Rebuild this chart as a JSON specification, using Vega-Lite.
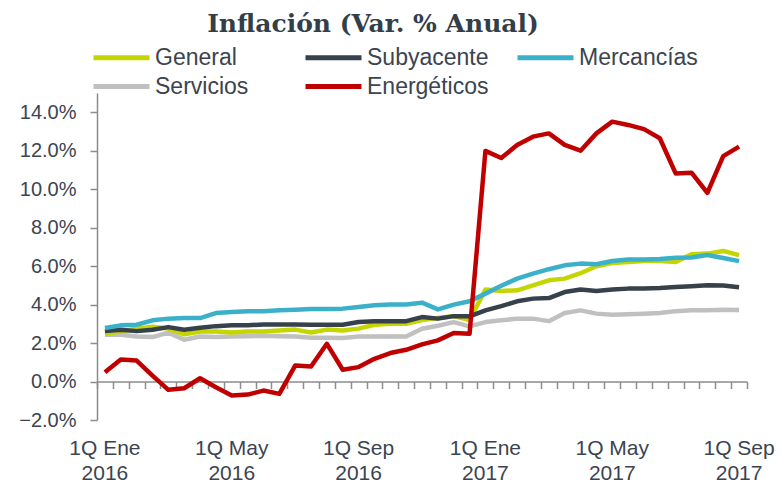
{
  "$schema": "https://vega.github.io/schema/vega-lite/v6.json",
  "width": 650,
  "height": 327,
  "autosize": {"type": "none"},
  "padding": {"left": 97, "top": 93, "right": 33, "bottom": 65},
  "background": "white",
  "config": {"view": {"stroke": null}},
  "title": {
    "text": "Inflación (Var. % Anual)",
    "font": "DejaVu Serif",
    "fontSize": 25,
    "fontWeight": "bold",
    "color": "#323e48",
    "anchor": "middle",
    "frame": "group",
    "dx": -49,
    "offset": 4
  },
  "data": {
    "values": [
      {"periodo": "1Q Ene 2016", "General": 2.5, "Subyacente": 2.62, "Mercancías": 2.78, "Servicios": 2.43, "Energéticos": 0.48},
      {"periodo": "2Q Ene 2016", "General": 2.6, "Subyacente": 2.69, "Mercancías": 2.92, "Servicios": 2.43, "Energéticos": 1.15},
      {"periodo": "1Q Feb 2016", "General": 2.75, "Subyacente": 2.62, "Mercancías": 2.95, "Servicios": 2.34, "Energéticos": 1.09},
      {"periodo": "2Q Feb 2016", "General": 2.85, "Subyacente": 2.69, "Mercancías": 3.18, "Servicios": 2.31, "Energéticos": 0.31},
      {"periodo": "1Q Mar 2016", "General": 2.75, "Subyacente": 2.83, "Mercancías": 3.27, "Servicios": 2.54, "Energéticos": -0.43},
      {"periodo": "2Q Mar 2016", "General": 2.45, "Subyacente": 2.69, "Mercancías": 3.3, "Servicios": 2.17, "Energéticos": -0.35},
      {"periodo": "1Q Abr 2016", "General": 2.6, "Subyacente": 2.8, "Mercancías": 3.3, "Servicios": 2.34, "Energéticos": 0.17},
      {"periodo": "2Q Abr 2016", "General": 2.6, "Subyacente": 2.88, "Mercancías": 3.56, "Servicios": 2.31, "Energéticos": -0.3},
      {"periodo": "1Q May 2016", "General": 2.55, "Subyacente": 2.92, "Mercancías": 3.61, "Servicios": 2.34, "Energéticos": -0.73},
      {"periodo": "2Q May 2016", "General": 2.6, "Subyacente": 2.92, "Mercancías": 3.65, "Servicios": 2.36, "Energéticos": -0.68},
      {"periodo": "1Q Jun 2016", "General": 2.6, "Subyacente": 2.97, "Mercancías": 3.66, "Servicios": 2.38, "Energéticos": -0.47},
      {"periodo": "2Q Jun 2016", "General": 2.65, "Subyacente": 2.97, "Mercancías": 3.7, "Servicios": 2.36, "Energéticos": -0.64},
      {"periodo": "1Q Jul 2016", "General": 2.7, "Subyacente": 2.97, "Mercancías": 3.73, "Servicios": 2.34, "Energéticos": 0.83},
      {"periodo": "2Q Jul 2016", "General": 2.55, "Subyacente": 2.95, "Mercancías": 3.77, "Servicios": 2.27, "Energéticos": 0.78},
      {"periodo": "1Q Ago 2016", "General": 2.7, "Subyacente": 2.95, "Mercancías": 3.77, "Servicios": 2.27, "Energéticos": 1.96},
      {"periodo": "2Q Ago 2016", "General": 2.65, "Subyacente": 2.95, "Mercancías": 3.79, "Servicios": 2.26, "Energéticos": 0.61},
      {"periodo": "1Q Sep 2016", "General": 2.75, "Subyacente": 3.09, "Mercancías": 3.87, "Servicios": 2.34, "Energéticos": 0.75},
      {"periodo": "2Q Sep 2016", "General": 2.95, "Subyacente": 3.14, "Mercancías": 3.96, "Servicios": 2.34, "Energéticos": 1.18},
      {"periodo": "1Q Oct 2016", "General": 3.0, "Subyacente": 3.14, "Mercancías": 4.0, "Servicios": 2.34, "Energéticos": 1.48},
      {"periodo": "2Q Oct 2016", "General": 3.0, "Subyacente": 3.14, "Mercancías": 4.01, "Servicios": 2.34, "Energéticos": 1.65},
      {"periodo": "1Q Nov 2016", "General": 3.2, "Subyacente": 3.35, "Mercancías": 4.1, "Servicios": 2.74, "Energéticos": 1.93},
      {"periodo": "2Q Nov 2016", "General": 3.3, "Subyacente": 3.27, "Mercancías": 3.75, "Servicios": 2.9, "Energéticos": 2.14},
      {"periodo": "1Q Dic 2016", "General": 3.4, "Subyacente": 3.4, "Mercancías": 4.0, "Servicios": 3.09, "Energéticos": 2.52},
      {"periodo": "2Q Dic 2016", "General": 3.2, "Subyacente": 3.39, "Mercancías": 4.17, "Servicios": 2.87, "Energéticos": 2.48},
      {"periodo": "1Q Ene 2017", "General": 4.78, "Subyacente": 3.7, "Mercancías": 4.57, "Servicios": 3.09, "Energéticos": 11.99},
      {"periodo": "2Q Ene 2017", "General": 4.71, "Subyacente": 3.92, "Mercancías": 4.98, "Servicios": 3.18, "Energéticos": 11.62},
      {"periodo": "1Q Feb 2017", "General": 4.74, "Subyacente": 4.17, "Mercancías": 5.35, "Servicios": 3.27, "Energéticos": 12.3},
      {"periodo": "2Q Feb 2017", "General": 5.0, "Subyacente": 4.31, "Mercancías": 5.61, "Servicios": 3.27, "Energéticos": 12.73},
      {"periodo": "1Q Mar 2017", "General": 5.26, "Subyacente": 4.34, "Mercancías": 5.84, "Servicios": 3.14, "Energéticos": 12.9},
      {"periodo": "2Q Mar 2017", "General": 5.35, "Subyacente": 4.65, "Mercancías": 6.04, "Servicios": 3.56, "Energéticos": 12.3},
      {"periodo": "1Q Abr 2017", "General": 5.63, "Subyacente": 4.78, "Mercancías": 6.13, "Servicios": 3.7, "Energéticos": 12.0},
      {"periodo": "2Q Abr 2017", "General": 5.99, "Subyacente": 4.71, "Mercancías": 6.1, "Servicios": 3.53, "Energéticos": 12.9},
      {"periodo": "1Q May 2017", "General": 6.16, "Subyacente": 4.78, "Mercancías": 6.27, "Servicios": 3.47, "Energéticos": 13.51},
      {"periodo": "2Q May 2017", "General": 6.22, "Subyacente": 4.83, "Mercancías": 6.34, "Servicios": 3.5, "Energéticos": 13.34},
      {"periodo": "1Q Jun 2017", "General": 6.27, "Subyacente": 4.83, "Mercancías": 6.34, "Servicios": 3.53, "Energéticos": 13.12},
      {"periodo": "2Q Jun 2017", "General": 6.27, "Subyacente": 4.86, "Mercancías": 6.37, "Servicios": 3.56, "Energéticos": 12.65},
      {"periodo": "1Q Jul 2017", "General": 6.22, "Subyacente": 4.91, "Mercancías": 6.43, "Servicios": 3.66, "Energéticos": 10.82},
      {"periodo": "2Q Jul 2017", "General": 6.62, "Subyacente": 4.95, "Mercancías": 6.45, "Servicios": 3.7, "Energéticos": 10.86},
      {"periodo": "1Q Ago 2017", "General": 6.65, "Subyacente": 5.0, "Mercancías": 6.58, "Servicios": 3.7, "Energéticos": 9.81},
      {"periodo": "2Q Ago 2017", "General": 6.79, "Subyacente": 4.99, "Mercancías": 6.42, "Servicios": 3.73, "Energéticos": 11.72},
      {"periodo": "1Q Sep 2017", "General": 6.57, "Subyacente": 4.9, "Mercancías": 6.26, "Servicios": 3.72, "Energéticos": 12.21}
    ]
  },
  "transform": [
    {"fold": ["Servicios", "General", "Subyacente", "Mercancías", "Energéticos"], "as": ["serie", "valor"]}
  ],
  "layer": [
    {
      "mark": {"type": "line", "strokeWidth": 4.5, "strokeJoin": "round"},
      "encoding": {
        "x": {
          "field": "periodo",
          "type": "ordinal",
          "sort": null,
          "bandPosition": 0.5,
          "scale": {"type": "band", "paddingInner": 0, "paddingOuter": 0},
          "axis": {
            "orient": "bottom",
            "values": ["1Q Ene 2016", "1Q May 2016", "1Q Sep 2016", "1Q Ene 2017", "1Q May 2017", "1Q Sep 2017"],
            "labelExpr": "[slice(datum.label, 0, 6), slice(datum.label, 7)]",
            "domain": false,
            "ticks": false,
            "grid": false,
            "title": null,
            "labelAngle": 0,
            "labelFont": "Liberation Sans",
            "labelFontSize": 21,
            "labelColor": "#3b4450",
            "labelPadding": 17,
            "labelLineHeight": 25,
            "labelBaseline": "top"
          }
        },
        "y": {
          "field": "valor",
          "type": "quantitative",
          "scale": {"domain": [-2, 15], "nice": false, "zero": false},
          "axis": {
            "values": [-2, 0, 2, 4, 6, 8, 10, 12, 14],
            "labelExpr": "format(datum.value, '.1f') + '%'",
            "title": null,
            "grid": false,
            "domain": true,
            "domainColor": "#8c8c8c",
            "domainWidth": 1.5,
            "ticks": true,
            "tickSize": 7,
            "tickColor": "#8c8c8c",
            "tickWidth": 1.5,
            "labelFont": "Liberation Sans",
            "labelFontSize": 20,
            "labelColor": "#3b4450",
            "labelPadding": 14
          }
        },
        "color": {
          "field": "serie",
          "type": "nominal",
          "scale": {
            "domain": ["General", "Subyacente", "Mercancías", "Servicios", "Energéticos"],
            "range": ["#c5d500", "#36414c", "#3bb1c9", "#c0c0c0", "#c00000"]
          },
          "legend": {
            "title": null,
            "orient": "none",
            "legendX": 8,
            "legendY": -52,
            "direction": "horizontal",
            "columns": 3,
            "gridAlign": "all",
            "columnPadding": 18,
            "rowPadding": -5,
            "padding": 0,
            "symbolType": "M-2,0H2",
            "symbolSize": 784,
            "symbolStrokeWidth": 5,
            "symbolFillColor": "transparent",
            "labelFont": "Liberation Sans",
            "labelFontSize": 23,
            "labelColor": "#3b4450",
            "labelOffset": 17
          }
        },
        "order": {"value": null}
      }
    },
    {
      "mark": {"type": "line", "opacity": 0},
      "encoding": {
        "x": {
          "field": "periodo",
          "type": "ordinal",
          "sort": null,
          "bandPosition": 0.5,
          "axis": {
            "orient": "bottom",
            "offset": -38.47,
            "domain": true,
            "domainColor": "#8c8c8c",
            "domainWidth": 1.5,
            "ticks": true,
            "tickBand": "extent",
            "tickSize": 7,
            "tickColor": "#8c8c8c",
            "tickWidth": 1.5,
            "labels": false,
            "grid": false,
            "title": null
          }
        },
        "y": {"datum": 0, "type": "quantitative"}
      }
    }
  ],
  "resolve": {"axis": {"x": "independent"}}
}
